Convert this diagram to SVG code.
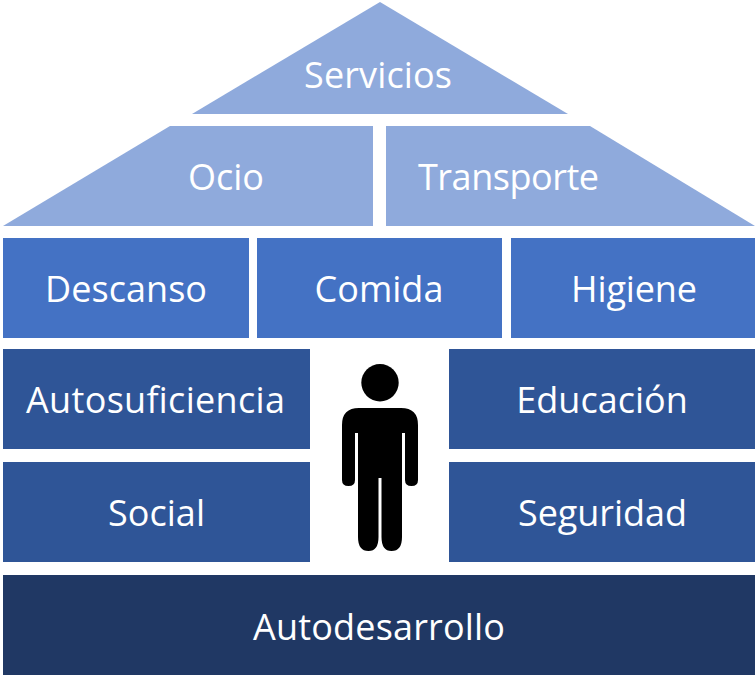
<svg xmlns="http://www.w3.org/2000/svg" width="755" height="675" viewBox="0 0 755 675">
<style>
text{font-family:"Open Sans","Noto Sans",sans-serif;font-size:36px;fill:#fff;text-anchor:middle}
.l{fill:#8faadc}.m{fill:#4472c4}.d{fill:#2f5597}.k{fill:#203864}
</style>
<rect width="755" height="675" fill="#fff"/>
<g id="servicios"><polygon class="l" points="380,2 568,114 192,114"/><text x="378" y="88" textLength="148">Servicios</text></g>
<g id="ocio"><polygon class="l" points="170,126 373,126 373,226 3,226"/><text x="226" y="190" textLength="76">Ocio</text></g>
<g id="transporte"><polygon class="l" points="386,126 590,126 755,226 386,226"/><text x="508.500" y="190" textLength="181">Transporte</text></g>
<g id="descanso"><rect class="m" x="3" y="238" width="246" height="100"/><text x="126" y="302" textLength="162">Descanso</text></g>
<g id="comida"><rect class="m" x="257" y="238" width="245" height="100"/><text x="379" y="302">Comida</text></g>
<g id="higiene"><rect class="m" x="511" y="238" width="244" height="100"/><text x="634" y="302" textLength="126">Higiene</text></g>
<g id="autosuficiencia"><rect class="d" x="3" y="349" width="307" height="100"/><text x="155.500" y="413" textLength="259">Autosuficiencia</text></g>
<g id="educacion"><rect class="d" x="449" y="349" width="306" height="100"/><text x="602" y="413">Educación</text></g>
<g id="social"><rect class="d" x="3" y="462" width="307" height="100"/><text x="156.500" y="526" textLength="97">Social</text></g>
<g id="seguridad"><rect class="d" x="449" y="462" width="306" height="100"/><text x="602.500" y="526" textLength="169">Seguridad</text></g>
<g id="autodesarrollo"><rect class="k" x="3" y="575" width="752" height="100"/><text x="379" y="640" textLength="252">Autodesarrollo</text></g>
<g id="persona"><circle cx="380" cy="382.700" r="18.700"/><path d="M359 408H401Q418 408 418 425V480Q418 486 411.500 486Q405 486 405 480V433H402V537Q402 551 391.500 551Q381.500 551 381.500 537V478H378.500V537Q378.500 551 368.500 551Q358 551 358 537V433H355V480Q355 486 348.500 486Q342 486 342 480V425Q342 408 359 408Z"/></g>
</svg>
